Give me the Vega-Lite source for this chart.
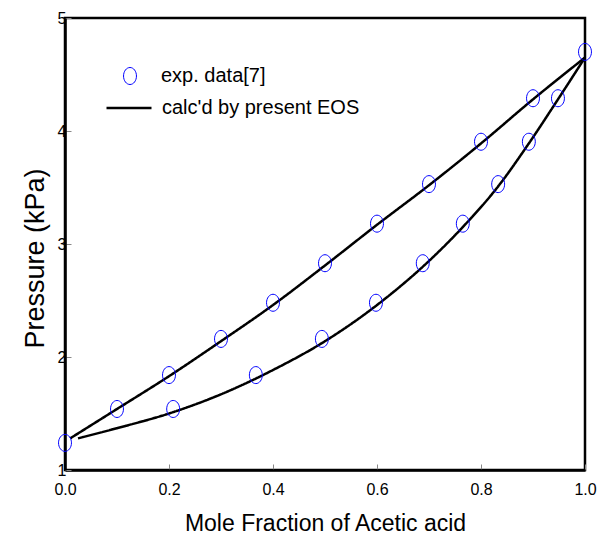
{
  "$schema": "https://vega.github.io/schema/vega-lite/v6.json",
  "width": 520,
  "height": 452,
  "autosize": {"type": "none"},
  "padding": {"left": 65, "top": 18, "right": 21, "bottom": 74},
  "config": {
    "font": "Liberation Sans",
    "view": {"stroke": "black", "strokeWidth": 2.5},
    "axis": {
      "grid": false,
      "domainColor": "black",
      "domainWidth": 2.5,
      "tickColor": "#888888",
      "tickWidth": 1,
      "tickSize": -6,
      "labelColor": "black",
      "labelFontSize": 16,
      "labelFont": "Liberation Sans",
      "labelFlush": false,
      "labelOverlap": false,
      "titleColor": "black",
      "titleFont": "Liberation Sans",
      "titleFontWeight": "normal"
    },
    "legend": {"padding": 0, "labelColor": "black", "labelFont": "Liberation Sans", "labelFontSize": 20, "labelLimit": 0}
  },
  "datasets": {
    "exp": [
      {"x": 0.0, "p": 1.24, "series": "exp. data[7]"},
      {"x": 0.1, "p": 1.54, "series": "exp. data[7]"},
      {"x": 0.2, "p": 1.84, "series": "exp. data[7]"},
      {"x": 0.3, "p": 2.16, "series": "exp. data[7]"},
      {"x": 0.4, "p": 2.48, "series": "exp. data[7]"},
      {"x": 0.5, "p": 2.83, "series": "exp. data[7]"},
      {"x": 0.6, "p": 3.18, "series": "exp. data[7]"},
      {"x": 0.7, "p": 3.53, "series": "exp. data[7]"},
      {"x": 0.8, "p": 3.905, "series": "exp. data[7]"},
      {"x": 0.9, "p": 4.29, "series": "exp. data[7]"},
      {"x": 1.0, "p": 4.70, "series": "exp. data[7]"},
      {"x": 0.208, "p": 1.54, "series": "exp. data[7]"},
      {"x": 0.367, "p": 1.84, "series": "exp. data[7]"},
      {"x": 0.494, "p": 2.16, "series": "exp. data[7]"},
      {"x": 0.598, "p": 2.48, "series": "exp. data[7]"},
      {"x": 0.688, "p": 2.83, "series": "exp. data[7]"},
      {"x": 0.765, "p": 3.18, "series": "exp. data[7]"},
      {"x": 0.833, "p": 3.53, "series": "exp. data[7]"},
      {"x": 0.892, "p": 3.905, "series": "exp. data[7]"},
      {"x": 0.948, "p": 4.29, "series": "exp. data[7]"}
    ],
    "calc": [
      {"x": 0.01, "p": 1.28, "branch": "liquid", "series": "calc'd by present EOS"},
      {"x": 0.1, "p": 1.54, "branch": "liquid", "series": "calc'd by present EOS"},
      {"x": 0.2, "p": 1.83, "branch": "liquid", "series": "calc'd by present EOS"},
      {"x": 0.3, "p": 2.14, "branch": "liquid", "series": "calc'd by present EOS"},
      {"x": 0.4, "p": 2.46, "branch": "liquid", "series": "calc'd by present EOS"},
      {"x": 0.5, "p": 2.81, "branch": "liquid", "series": "calc'd by present EOS"},
      {"x": 0.6, "p": 3.17, "branch": "liquid", "series": "calc'd by present EOS"},
      {"x": 0.7, "p": 3.52, "branch": "liquid", "series": "calc'd by present EOS"},
      {"x": 0.8, "p": 3.89, "branch": "liquid", "series": "calc'd by present EOS"},
      {"x": 0.9, "p": 4.28, "branch": "liquid", "series": "calc'd by present EOS"},
      {"x": 1.0, "p": 4.65, "branch": "liquid", "series": "calc'd by present EOS"},
      {"x": 0.025, "p": 1.28, "branch": "vapor", "series": "calc'd by present EOS"},
      {"x": 0.1, "p": 1.37, "branch": "vapor", "series": "calc'd by present EOS"},
      {"x": 0.2, "p": 1.50, "branch": "vapor", "series": "calc'd by present EOS"},
      {"x": 0.3, "p": 1.67, "branch": "vapor", "series": "calc'd by present EOS"},
      {"x": 0.4, "p": 1.885, "branch": "vapor", "series": "calc'd by present EOS"},
      {"x": 0.5, "p": 2.14, "branch": "vapor", "series": "calc'd by present EOS"},
      {"x": 0.6, "p": 2.46, "branch": "vapor", "series": "calc'd by present EOS"},
      {"x": 0.7, "p": 2.85, "branch": "vapor", "series": "calc'd by present EOS"},
      {"x": 0.765, "p": 3.15, "branch": "vapor", "series": "calc'd by present EOS"},
      {"x": 0.833, "p": 3.51, "branch": "vapor", "series": "calc'd by present EOS"},
      {"x": 0.892, "p": 3.89, "branch": "vapor", "series": "calc'd by present EOS"},
      {"x": 0.948, "p": 4.28, "branch": "vapor", "series": "calc'd by present EOS"},
      {"x": 1.0, "p": 4.65, "branch": "vapor", "series": "calc'd by present EOS"}
    ]
  },
  "layer": [
    {
      "data": {"name": "calc"},
      "mark": {"type": "line", "color": "black", "strokeWidth": 2.5, "strokeJoin": "round", "interpolate": "monotone"},
      "encoding": {
        "x": {
          "field": "x", "type": "quantitative",
          "scale": {"domain": [0, 1], "nice": false},
          "axis": {"values": [0, 0.2, 0.4, 0.6, 0.8, 1], "format": ".1f", "title": "Mole Fraction of Acetic acid", "titleFontSize": 23, "labelFontSize": 16, "labelPadding": 17, "titlePadding": 15}
        },
        "y": {
          "field": "p", "type": "quantitative",
          "scale": {"domain": [1, 5], "nice": false},
          "axis": {"values": [1, 2, 3, 4, 5], "format": "d", "title": "Pressure (kPa)", "titleFontSize": 27, "titleY": 240, "labelFontSize": 16, "labelPadding": 5, "titlePadding": 8}
        },
        "detail": {"field": "branch"},
        "strokeDash": {
          "field": "series", "type": "nominal",
          "scale": {"range": [[1, 0]]},
          "legend": {"title": null, "orient": "none", "legendX": 40, "legendY": 66, "symbolType": "stroke", "symbolStrokeColor": "black", "symbolStrokeWidth": 2.5, "symbolSize": 2025, "labelOffset": 9, "labelFontSize": 20, "labelLimit": 0}
        }
      }
    },
    {
      "data": {"name": "exp"},
      "mark": {"type": "point", "filled": false, "color": "blue", "strokeWidth": 1, "size": 289, "opacity": 1},
      "encoding": {
        "x": {"field": "x", "type": "quantitative"},
        "y": {"field": "p", "type": "quantitative"},
        "shape": {
          "field": "series", "type": "nominal",
          "scale": {"range": ["M-0.76,0A0.76,1 0 1,1 0.76,0A0.76,1 0 1,1 -0.76,0Z"]},
          "legend": {"title": null, "orient": "none", "legendX": 55, "legendY": 48, "symbolStrokeColor": "blue", "symbolFillColor": "transparent", "symbolSize": 289, "symbolStrokeWidth": 1, "labelOffset": 21, "labelFontSize": 20, "labelLimit": 0}
        }
      }
    }
  ]
}
